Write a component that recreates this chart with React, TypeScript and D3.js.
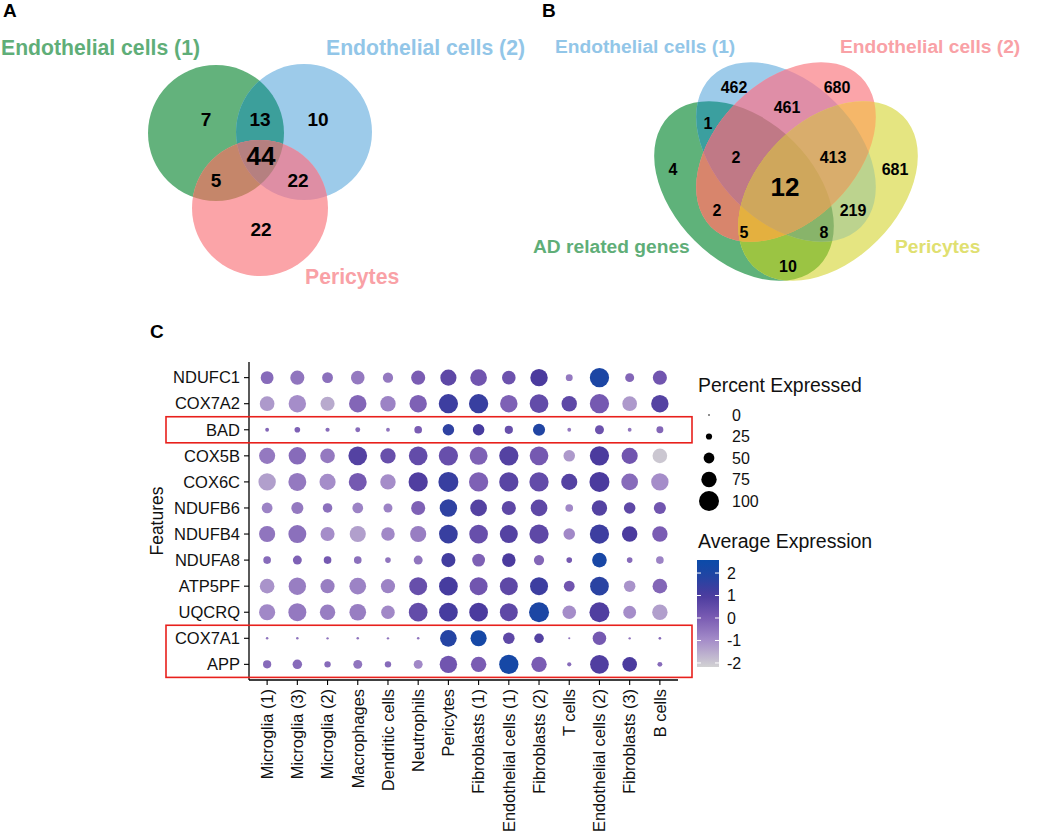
import React from "react";
import * as d3 from "d3";

// ---------------- Panel C data ----------------
const features = ["NDUFC1", "COX7A2", "BAD", "COX5B", "COX6C", "NDUFB6", "NDUFB4", "NDUFA8", "ATP5PF", "UQCRQ", "COX7A1", "APP"];
const cellTypes = ["Microglia (1)", "Microglia (3)", "Microglia (2)", "Macrophages", "Dendritic cells", "Neutrophils", "Pericytes", "Fibroblasts (1)", "Endothelial cells (1)", "Fibroblasts (2)", "T cells", "Endothelial cells (2)", "Fibroblasts (3)", "B cells"];

const pctNDUFC1 = [61, 68, 50, 65, 47, 68, 79, 82, 65, 86, 29, 96, 40, 68];
const pctCOX7A2 = [71, 86, 68, 86, 75, 86, 96, 96, 86, 93, 75, 96, 71, 86];
const pctBAD = [12, 22, 14, 18, 12, 33, 54, 54, 36, 57, 12, 40, 12, 29];
const pctCOX5B = [79, 86, 71, 93, 75, 93, 96, 89, 96, 93, 54, 96, 79, 71];
const pctCOX6C = [86, 89, 79, 89, 75, 96, 100, 96, 96, 96, 79, 100, 82, 86];
const pctNDUFB6 = [50, 57, 43, 50, 40, 68, 86, 82, 68, 82, 33, 75, 54, 57];
const pctNDUFB4 = [79, 89, 68, 79, 65, 79, 93, 93, 89, 96, 54, 96, 75, 75];
const pctNDUFA8 = [33, 40, 33, 33, 22, 40, 68, 61, 65, 47, 22, 71, 22, 33];
const pctATP5PF = [71, 86, 68, 82, 68, 89, 93, 89, 89, 89, 50, 93, 54, 71];
const pctUQCRQ = [79, 89, 75, 82, 65, 93, 93, 93, 89, 100, 65, 100, 61, 75];
const pctCOX7A1 = [5, 5, 4, 5, 4, 5, 82, 79, 54, 43, 3, 65, 4, 6];
const pctAPP = [36, 43, 26, 40, 26, 40, 86, 75, 96, 75, 14, 93, 71, 18];

const avgNDUFC1 = [-0.3, -0.5, -0.4, -0.6, -0.6, 0, 0.6, 0.2, 0.3, 1.0, -0.6, 2.0, -0.2, 0.2];
const avgCOX7A2 = [-1.2, -1.0, -1.5, -0.2, -0.8, -0.1, 1.3, 1.4, -0.1, 0.5, 0.6, 0.1, -1.2, 0.8];
const avgBAD = [-0.2, -0.1, -0.3, -0.3, -0.5, 0, 1.6, 1.1, 0.4, 1.9, -0.6, 0.3, -0.5, -0.2];
const avgCOX5B = [-0.6, -0.3, -0.6, 0.8, 0.4, 0.5, 0.4, -0.1, 0.8, 0.1, -1.2, 1.0, 0.2, -2.0];
const avgCOX6C = [-1.3, -0.6, -1.0, 0.1, -1.0, 0.9, 1.4, -0.1, 0.7, 0.5, 0.8, 1.0, -0.3, -1.0];
const avgNDUFB6 = [-0.8, -0.6, -0.4, -0.8, -0.8, -0.1, 1.6, 0.8, 0.6, 0.6, -0.9, 0.8, 0.6, 0.2];
const avgNDUFB4 = [-0.5, -0.4, -1.0, -1.3, -0.9, -0.7, 1.4, 0.4, 0.8, 0.6, -0.9, 1.3, 1.0, 0.0];
const avgNDUFA8 = [-0.3, -0.1, 0.1, -0.4, -0.5, -0.5, 1.2, -0.1, 1.0, -0.2, 0.1, 2.1, -0.3, -0.8];
const avgATP5PF = [-1.1, -0.7, -0.7, -0.8, -0.8, 0.4, 1.1, 0.2, 0.6, 1.3, 0.2, 1.7, -1.1, -0.2];
const avgUQCRQ = [-0.9, -0.6, -0.7, -0.7, -0.9, 0.5, 1.1, 1.0, 0.6, 2.0, -1.0, 0.9, -1.0, -1.3];
const avgCOX7A1 = [-0.5, -0.5, -0.5, -0.5, -0.5, -0.5, 1.8, 2.2, 0.6, 0.8, -0.5, 0.1, -0.5, -0.3];
const avgAPP = [-0.3, -0.3, -0.3, -0.5, -0.3, -0.9, 0.2, 0.0, 2.2, 0.0, -0.3, 0.9, 1.0, -0.3];

const pctRows = [pctNDUFC1, pctCOX7A2, pctBAD, pctCOX5B, pctCOX6C, pctNDUFB6, pctNDUFB4, pctNDUFA8, pctATP5PF, pctUQCRQ, pctCOX7A1, pctAPP];
const avgRows = [avgNDUFC1, avgCOX7A2, avgBAD, avgCOX5B, avgCOX6C, avgNDUFB6, avgNDUFB4, avgNDUFA8, avgATP5PF, avgUQCRQ, avgCOX7A1, avgAPP];

const sizeBreaks = [0, 25, 50, 75, 100];
const colorBreaks = [2, 1, 0, -1, -2];
const highlightGroups = [["BAD", "BAD"], ["COX7A1", "APP"]];

// ---------------- Panel A data ----------------
const vennASetNames = ["Endothelial cells (1)", "Endothelial cells (2)", "Pericytes"];
const vennARegions = ["G", "B", "P", "GB", "GP", "BP", "GBP"];
const vennACounts = [7, 10, 22, 13, 5, 22, 44];

// ---------------- Panel B data ----------------
const vennBSetNames = ["AD related genes", "Endothelial cells (1)", "Endothelial cells (2)", "Pericytes"];
const vennBRegions = ["G", "B", "P", "Y", "GB", "GP", "GY", "BP", "BY", "PY", "GBP", "GBY", "GPY", "BPY", "GBPY"];
const vennBCounts = [4, 462, 680, 681, 1, 2, 10, 461, 219, null, 2, 8, 5, 413, 12];

// ---------------- layout / style ----------------
const FONT = "'Liberation Sans', Arial, Helvetica, sans-serif";

const vennAShapes: Record<string, { cx: number; cy: number; r: number }> = {
  G: { cx: 216, cy: 133, r: 68 },
  B: { cx: 304, cy: 132, r: 68 },
  P: { cx: 260, cy: 208, r: 68 },
};
const vennARegionColors: Record<string, string> = {
  G: "#63b27c", B: "#9dcbea", P: "#fba4a8", GB: "#3c9f9b", GP: "#c5866a", BP: "#de8ea4", GBP: "#b58080",
};
const vennALabelPos: Record<string, [number, number]> = {
  G: [206, 119], B: [318, 119], P: [261, 229], GB: [260, 119], GP: [216, 180], BP: [298, 180], GBP: [261, 156],
};
const vennASetLabel = [
  { x: 1, y: 55, color: "#5fae78" },
  { x: 326, y: 55, color: "#92c6e8" },
  { x: 305, y: 284, color: "#f9a1a6" },
];

const vennBShapes: Record<string, { cx: number; cy: number; rx: number; ry: number; rot: number }> = {
  G: { cx: 744, cy: 191, rx: 106, ry: 70, rot: 45 },
  B: { cx: 786, cy: 152, rx: 106, ry: 70, rot: 45 },
  P: { cx: 786, cy: 152, rx: 106, ry: 70, rot: -45 },
  Y: { cx: 828, cy: 191, rx: 106, ry: 70, rot: -45 },
};
const vennBRegionColors: Record<string, string> = {
  G: "#5fb27a", B: "#9dcbea", P: "#fba4a9", Y: "#e5e581",
  GB: "#3b9f9f", GP: "#d8856c", GY: "#9bc443", BP: "#df8ea7", BY: "#bcd38e", PY: "#f5b769",
  GBP: "#c07986", GBY: "#88b46a", GPY: "#e4b03f", BPY: "#d9ad6c", GBPY: "#cfa75c",
};
const vennBLabelPos: Record<string, [number, number]> = {
  G: [673, 169], B: [734, 87], P: [837, 87], Y: [895, 169],
  GB: [708, 123], GP: [717, 210], GY: [788, 266], BP: [787, 107], BY: [853, 210], PY: [870, 125],
  GBP: [736, 157], GBY: [824, 232], GPY: [744, 232], BPY: [833, 157], GBPY: [785, 187],
};
const vennBSetLabel = [
  { x: 533, y: 253, color: "#5fae78" },
  { x: 555, y: 53, color: "#92c6e8" },
  { x: 840, y: 53, color: "#f9a1a6" },
  { x: 895, y: 253, color: "#e0e070" },
];

// dot plot frame
const plotLeft = 249, plotRight = 678, plotTop = 362, plotBottom = 680;

function VennRegions({ regions, colors, shapeEl, prefix }: any) {
  // paint each region (increasing set size) clipped to all its member shapes
  const sorted = [...regions].sort((a: string, b: string) => a.length - b.length);
  return (
    <g>
      {sorted.map((reg: string) => {
        const letters = reg.split("");
        let inner: any = shapeEl(letters[letters.length - 1], colors[reg]);
        for (let i = letters.length - 2; i >= 0; i--) {
          inner = <g clipPath={`url(#${prefix}-${letters[i]})`}>{inner}</g>;
        }
        return <g key={reg}>{inner}</g>;
      })}
    </g>
  );
}

export default function App() {
  const x = d3.scalePoint<string>().domain(cellTypes).range([plotLeft, plotRight]).padding(0.6);
  const y = d3.scalePoint<string>().domain(features).range([plotTop, plotBottom]).padding(0.6);
  const r = d3.scaleLinear().domain([0, 100]).range([0.8, 10]);
  const color = d3
    .scaleLinear<string>()
    .domain([-2.2, -1, 0, 1, 2, 2.6])
    .range(["#d3d3d3", "#a58dc9", "#7a5cb3", "#4b3b9e", "#1c46a4", "#0a4ba9"])
    .interpolate(d3.interpolateRgb)
    .clamp(true);

  const legendY = d3.scalePoint<string>().domain(sizeBreaks.map(String)).range([415, 501]);
  const cbY = d3.scaleLinear().domain([-2.18, 2.58]).range([667, 560]);
  const cbStops = d3.range(0, 1.0001, 0.05);

  const stepY = y.step();

  const circleA = (k: string, fill: string) => {
    const s = vennAShapes[k];
    return <circle cx={s.cx} cy={s.cy} r={s.r} fill={fill} />;
  };
  const ellipseB = (k: string, fill: string) => {
    const s = vennBShapes[k];
    return <ellipse cx={s.cx} cy={s.cy} rx={s.rx} ry={s.ry} transform={`rotate(${s.rot} ${s.cx} ${s.cy})`} fill={fill} />;
  };

  return (
    <svg width={1052} height={836} style={{ position: "absolute", left: 0, top: 0, background: "#fff" }} fontFamily={FONT}>
      <defs>
        {Object.keys(vennAShapes).map((k) => (
          <clipPath id={`va-${k}`} key={k}>
            {circleA(k, "#000")}
          </clipPath>
        ))}
        {Object.keys(vennBShapes).map((k) => (
          <clipPath id={`vb-${k}`} key={k}>
            {ellipseB(k, "#000")}
          </clipPath>
        ))}
        <linearGradient id="cbgrad" x1="0" y1="1" x2="0" y2="0">
          {cbStops.map((t) => (
            <stop key={t} offset={t} stopColor={color(-2.18 + t * (2.58 + 2.18))} />
          ))}
        </linearGradient>
      </defs>

      {/* Panel labels */}
      <text x={3} y={17} fontSize={19} fontWeight="bold">A</text>
      <text x={542} y={17} fontSize={19} fontWeight="bold">B</text>
      <text x={150} y={338} fontSize={19} fontWeight="bold">C</text>

      {/* ---------- Venn A ---------- */}
      <VennRegions regions={vennARegions} colors={vennARegionColors} shapeEl={circleA} prefix="va" />
      {vennARegions.map((reg, i) => (
        <text key={reg} x={vennALabelPos[reg][0]} y={vennALabelPos[reg][1]} dy="0.35em" textAnchor="middle"
          fontSize={reg === "GBP" ? 26 : 19} fontWeight="bold" fill="#000">{vennACounts[i]}</text>
      ))}
      {vennASetNames.map((n, i) => (
        <text key={n} x={vennASetLabel[i].x} y={vennASetLabel[i].y} fontSize={21.2} fontWeight="bold" fill={vennASetLabel[i].color}>{n}</text>
      ))}

      {/* ---------- Venn B ---------- */}
      <VennRegions regions={vennBRegions} colors={vennBRegionColors} shapeEl={ellipseB} prefix="vb" />
      {vennBRegions.map((reg, i) =>
        vennBCounts[i] === null ? null : (
          <text key={reg} x={vennBLabelPos[reg][0]} y={vennBLabelPos[reg][1]} dy="0.35em" textAnchor="middle"
            fontSize={reg === "GBPY" ? 26 : 16} fontWeight="bold" fill="#000">{vennBCounts[i]}</text>
        )
      )}
      {vennBSetNames.map((n, i) => (
        <text key={i} x={vennBSetLabel[i].x} y={vennBSetLabel[i].y} fontSize={19.2} fontWeight="bold" fill={vennBSetLabel[i].color}>{n}</text>
      ))}

      {/* ---------- Dot plot C ---------- */}
      {features.map((f, fi) =>
        cellTypes.map((c, ci) => (
          <circle key={f + c} cx={x(c)} cy={y(f)} r={r(pctRows[fi][ci])} fill={color(avgRows[fi][ci])} />
        ))
      )}
      {/* axes */}
      <line x1={plotLeft} x2={plotLeft} y1={plotTop} y2={plotBottom} stroke="#000" strokeWidth={1.3} />
      <line x1={plotLeft} x2={plotRight} y1={plotBottom} y2={plotBottom} stroke="#000" strokeWidth={1.3} />
      {features.map((f) => (
        <g key={f}>
          <line x1={plotLeft - 5} x2={plotLeft} y1={y(f)} y2={y(f)} stroke="#000" strokeWidth={1.1} />
          <text x={plotLeft - 9} y={y(f)} dy="0.35em" textAnchor="end" fontSize={16.5} fill="#111">{f}</text>
        </g>
      ))}
      {cellTypes.map((c) => (
        <g key={c}>
          <line x1={x(c)} x2={x(c)} y1={plotBottom} y2={plotBottom + 5} stroke="#000" strokeWidth={1.1} />
          <text transform={`translate(${x(c)},${plotBottom + 9}) rotate(-90)`} dy="0.35em" textAnchor="end" fontSize={16.4} fill="#111">{c}</text>
        </g>
      ))}
      <text transform={`translate(157,${(plotTop + plotBottom) / 2}) rotate(-90)`} dy="0.35em" textAnchor="middle" fontSize={17.5} fill="#111">Features</text>

      {/* highlight boxes */}
      {highlightGroups.map(([a, b], i) => (
        <rect key={i} x={166} y={(y(a) as number) - stepY / 2} width={692 - 166}
          height={(y(b) as number) - (y(a) as number) + stepY} fill="none" stroke="#e8201c" strokeWidth={1.6} />
      ))}

      {/* size legend */}
      <text x={698} y={392} fontSize={19.4} fill="#111">Percent Expressed</text>
      {sizeBreaks.map((s) => (
        <g key={s}>
          <circle cx={709} cy={legendY(String(s))} r={r(s)} fill="#000" />
          <text x={732} y={legendY(String(s))} dy="0.35em" fontSize={16} fill="#111">{s}</text>
        </g>
      ))}

      {/* color legend */}
      <text x={698} y={548} fontSize={19.5} fill="#111">Average Expression</text>
      <rect x={697} y={560} width={22} height={107} fill="url(#cbgrad)" />
      {colorBreaks.map((v) => (
        <g key={v}>
          <line x1={697} x2={701} y1={cbY(v)} y2={cbY(v)} stroke="#fff" strokeWidth={1} />
          <line x1={715} x2={719} y1={cbY(v)} y2={cbY(v)} stroke="#fff" strokeWidth={1} />
          <text x={727} y={cbY(v)} dy="0.35em" fontSize={16} fill="#111">{v}</text>
        </g>
      ))}
    </svg>
  );
}
